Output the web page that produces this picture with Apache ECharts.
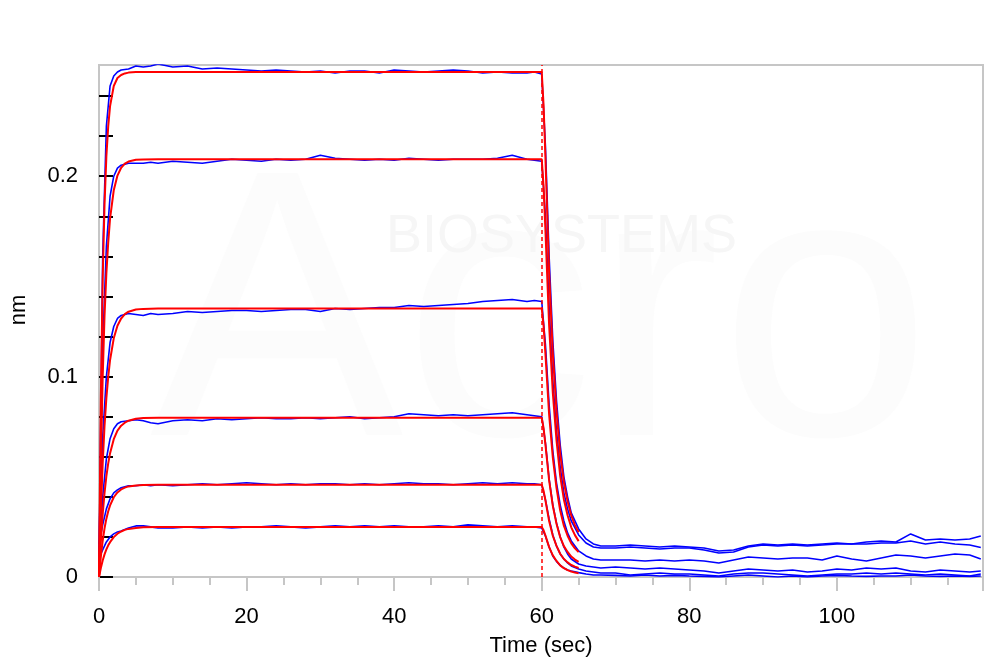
<!DOCTYPE html>
<html>
<head>
<meta charset="utf-8">
<script src="https://cdn.jsdelivr.net/npm/echarts@6/dist/echarts.min.js"></script>
<style>
  html, body { margin: 0; background: #fff; }
  #chart { width: 1000px; height: 669px; }
</style>
</head>
<body>
<div id="chart"></div>
<script>
// sensor time grid for the measured (blue) traces
const tBlue = [
  0, 0.5, 1, 1.5, 2, 2.5, 3, 4, 5, 6, 7, 8,
  10, 12, 14, 16, 18, 20, 22, 24, 26, 28, 30, 32, 34,
  36, 38, 40, 42, 44, 46, 48, 50, 52, 54, 56, 58, 59, 60,
  60.5, 61, 61.5, 62, 62.5, 63, 63.5, 64, 65, 66, 67, 68,
  70, 72, 74, 76, 78, 80, 82, 84, 86, 88, 90, 92, 94,
  96, 98, 100, 102, 104, 106, 108, 110, 112, 114, 116, 118, 119.5
]

const blue1 = [
  0.004, 0.16, 0.225, 0.245, 0.25, 0.252, 0.253, 0.2535, 0.255, 0.2545, 0.255, 0.256,
  0.2545, 0.255, 0.2535, 0.254, 0.2535, 0.253, 0.2525, 0.253, 0.2525, 0.252, 0.2525, 0.2515, 0.2525,
  0.2525, 0.2515, 0.253, 0.2525, 0.252, 0.2525, 0.253, 0.2525, 0.2515, 0.252, 0.2515, 0.2515, 0.252, 0.251,
  0.215, 0.16, 0.118, 0.088, 0.066, 0.05, 0.04, 0.032, 0.024, 0.019, 0.0165, 0.0155,
  0.0155, 0.016, 0.0155, 0.015, 0.0155, 0.015, 0.0145, 0.013, 0.0135, 0.0155, 0.0165, 0.016, 0.0165,
  0.016, 0.0165, 0.017, 0.0165, 0.0175, 0.018, 0.0175, 0.0215, 0.0185, 0.019, 0.0185, 0.019, 0.0205
]
const blue2 = [
  0.01, 0.115, 0.165, 0.19, 0.2, 0.204, 0.2055, 0.2065, 0.2065, 0.2065, 0.207, 0.2065,
  0.2075, 0.207, 0.2065, 0.2075, 0.2085, 0.208, 0.2075, 0.2085, 0.208, 0.2085, 0.2105, 0.209, 0.2085,
  0.208, 0.2085, 0.208, 0.209, 0.2085, 0.208, 0.2085, 0.2085, 0.2085, 0.209, 0.2105, 0.2085, 0.208, 0.2075,
  0.18, 0.135, 0.098, 0.073, 0.055, 0.042, 0.034, 0.028, 0.021, 0.017, 0.015, 0.0145,
  0.0145, 0.015, 0.0145, 0.014, 0.0145, 0.0145, 0.0135, 0.012, 0.0125, 0.015, 0.016, 0.0155, 0.016,
  0.0155, 0.016, 0.0165, 0.0165, 0.0165, 0.017, 0.017, 0.018, 0.0165, 0.0175, 0.0165, 0.016, 0.0147
]
const blue3 = [
  0.006, 0.07, 0.1, 0.117, 0.125, 0.129, 0.1305, 0.1315, 0.131, 0.1305, 0.1315, 0.131,
  0.1315, 0.1325, 0.132, 0.1325, 0.133, 0.133, 0.1325, 0.133, 0.1335, 0.1335, 0.1325, 0.134, 0.1335,
  0.134, 0.1345, 0.1345, 0.1355, 0.135, 0.1355, 0.136, 0.1365, 0.1375, 0.138, 0.1385, 0.1375, 0.138, 0.1375,
  0.116, 0.086, 0.063, 0.047, 0.036, 0.028, 0.022, 0.018, 0.013, 0.0105, 0.009, 0.0085,
  0.0085, 0.0085, 0.008, 0.0085, 0.008, 0.0085, 0.008, 0.007, 0.0085, 0.01, 0.0095, 0.009, 0.0095,
  0.0095, 0.0085, 0.0105, 0.009, 0.008, 0.0095, 0.011, 0.0105, 0.0095, 0.0105, 0.0115, 0.011, 0.009
]
const blue4 = [
  0.01, 0.04, 0.059, 0.069, 0.074, 0.0765, 0.0775, 0.078, 0.0785, 0.078, 0.077, 0.0765,
  0.078, 0.0785, 0.078, 0.079, 0.0785, 0.079, 0.0795, 0.079, 0.079, 0.0795, 0.079, 0.0795, 0.08,
  0.079, 0.0795, 0.08, 0.0815, 0.081, 0.0805, 0.081, 0.0805, 0.081, 0.0815, 0.082, 0.081, 0.0805, 0.08,
  0.067, 0.049, 0.036, 0.027, 0.02, 0.015, 0.0115, 0.009, 0.0065, 0.0055, 0.005, 0.0045,
  0.005, 0.0045, 0.004, 0.0045, 0.004, 0.0035, 0.003, 0.002, 0.003, 0.004, 0.0035, 0.003, 0.0035,
  0.0025, 0.003, 0.004, 0.0035, 0.0045, 0.004, 0.0045, 0.003, 0.0025, 0.0035, 0.003, 0.0025, 0.003
]
const blue5 = [
  0.0165, 0.026, 0.034, 0.039, 0.042, 0.0435, 0.0445, 0.0455, 0.0455, 0.046, 0.0455, 0.046,
  0.0455, 0.046, 0.0465, 0.046, 0.0465, 0.047, 0.0465, 0.046, 0.0465, 0.046, 0.0465, 0.0465, 0.046,
  0.0465, 0.046, 0.0465, 0.047, 0.0465, 0.0465, 0.046, 0.0465, 0.047, 0.0465, 0.047, 0.0465, 0.0465, 0.046,
  0.0385, 0.029, 0.021, 0.0155, 0.0115, 0.009, 0.007, 0.0055, 0.004, 0.003, 0.0025, 0.002,
  0.002, 0.001, 0.0015, 0.002, 0.0015, 0.0015, 0.001, 0.0005, 0.0015, 0.002, 0.002, 0.0015, 0.001,
  0.0005, 0.001, 0.0015, 0.0015, 0.002, 0.0015, 0.002, 0.0015, 0.001, 0.0015, 0.001, 0.0005, 0.0015
]
const blue6 = [
  0.0095, 0.0135, 0.0175, 0.02, 0.0215, 0.0225, 0.023, 0.0245, 0.0255, 0.0255, 0.025, 0.0245,
  0.0245, 0.025, 0.0245, 0.025, 0.0245, 0.025, 0.025, 0.0255, 0.025, 0.0245, 0.025, 0.0255, 0.025,
  0.0255, 0.025, 0.0255, 0.025, 0.025, 0.0255, 0.025, 0.026, 0.0255, 0.025, 0.0255, 0.025, 0.025, 0.0245,
  0.0205, 0.015, 0.0105, 0.0078, 0.0058, 0.0045, 0.0035, 0.003, 0.0022, 0.0015, 0.001, 0.001,
  0.0008, 0.0005, 0.001, 0.0005, 0.0008, 0.0005, 0.0003, 0, 0.0005, 0.001, 0.0005, 0, 0.0005,
  0, 0.0005, 0.0008, 0.0005, 0.0003, 0.0005, 0.0005, 0.001, 0.0005, 0.0003, 0.0005, 0.0003, 0.0005
]

// time grid for the fitted (red) curves: association 0-60, dissociation 60-65
const tRed = [
  0, 0.25, 0.5, 0.75, 1, 1.25, 1.5, 2, 2.5, 3, 3.5, 4, 5, 6, 8, 60,
  60.25, 60.5, 60.75, 61, 61.5, 62, 62.5, 63, 63.5, 64, 64.5, 65
]
const red1 = [
  0, 0.09, 0.149, 0.186, 0.21, 0.225, 0.235, 0.245, 0.249, 0.2505, 0.2513, 0.2517, 0.252, 0.252, 0.252, 0.252,
  0.2353, 0.2092, 0.1806, 0.152, 0.1116, 0.083, 0.0616, 0.0473, 0.0378, 0.0307, 0.0259, 0.0223
]
const red2 = [
  0, 0.058, 0.0997, 0.1305, 0.1516, 0.167, 0.179, 0.193, 0.2003, 0.2042, 0.2063, 0.2073, 0.2082, 0.2084, 0.2085, 0.2085,
  0.1947, 0.173, 0.1493, 0.1256, 0.092, 0.0683, 0.0505, 0.0387, 0.0308, 0.0248, 0.0209, 0.0179
]
const red3 = [
  0, 0.0325, 0.0567, 0.0755, 0.0894, 0.0999, 0.1083, 0.1191, 0.1254, 0.129, 0.1312, 0.1324, 0.1335, 0.1338, 0.134, 0.134,
  0.1252, 0.1113, 0.0962, 0.0811, 0.0597, 0.0445, 0.0332, 0.0256, 0.0206, 0.0168, 0.0143, 0.0124
]
const red4 = [
  0, 0.0176, 0.0313, 0.042, 0.0503, 0.0567, 0.0618, 0.0688, 0.073, 0.0755, 0.077, 0.078, 0.079, 0.0793, 0.0795, 0.0795,
  0.0743, 0.0661, 0.0572, 0.0482, 0.0355, 0.0266, 0.0199, 0.0154, 0.0125, 0.0102, 0.0087, 0.0076
]
const red5 = [
  0, 0.0102, 0.0181, 0.0243, 0.0291, 0.0328, 0.0357, 0.0398, 0.0422, 0.0437, 0.0446, 0.0452, 0.0457, 0.0459, 0.046, 0.046,
  0.043, 0.0383, 0.0331, 0.0279, 0.0206, 0.0155, 0.0116, 0.009, 0.0073, 0.006, 0.0052, 0.0045
]
const red6 = [
  0, 0.0045, 0.0082, 0.0113, 0.0138, 0.0158, 0.0174, 0.0199, 0.0216, 0.0227, 0.0235, 0.024, 0.0245, 0.0248, 0.025, 0.025,
  0.0233, 0.0207, 0.0178, 0.0149, 0.0108, 0.008, 0.0058, 0.0044, 0.0034, 0.0027, 0.0022, 0.0018
]

const switchTime = 60
const yLabels = ['0', '0.1', '0.2']

const FONT = '"Liberation Sans", Arial, sans-serif'
const GREY = '#c6c6c6'

function pairs(t, v) {
  return t.map((x, i) => [x, v[i]])
}

const blueSeries = [blue1, blue2, blue3, blue4, blue5, blue6].map(v => ({
  type: 'line',
  data: pairs(tBlue, v),
  showSymbol: false,
  silent: true,
  z: 2,
  lineStyle: { color: '#0000ff', width: 1.6 }
}))

const redSeries = [red1, red2, red3, red4, red5, red6].map(v => ({
  type: 'line',
  data: pairs(tRed, v),
  showSymbol: false,
  silent: true,
  z: 3,
  lineStyle: { color: '#ff0000', width: 2 }
}))

// dashed marker where association switches to dissociation
redSeries[0].markLine = {
  silent: true,
  symbol: 'none',
  label: { show: false },
  lineStyle: { color: '#ff0000', type: [4, 3], width: 1.5 },
  data: [{ xAxis: switchTime }]
}

const chart = echarts.init(document.getElementById('chart'))

const option = {
  animation: false,
  backgroundColor: '#fff',
  textStyle: { fontFamily: FONT },
  // faint logo watermark behind the plot
  graphic: [
    {
      type: 'text', left: 150, top: 140, z: -10, silent: true,
      style: { text: 'Acro', fontSize: 380, fontFamily: FONT, fill: '#fcfcfc' }
    },
    {
      type: 'text', left: 386, top: 210, z: -9, silent: true,
      style: { text: 'BIOSYSTEMS', fontSize: 54, fontFamily: FONT, fill: '#f6f6f6' }
    }
  ],
  grid: {
    left: 98, right: 17, top: 65, bottom: 92,
    show: true, borderColor: GREY, borderWidth: 2
  },
  xAxis: {
    type: 'value',
    min: 0,
    max: 119.8,
    interval: 20,
    name: 'Time (sec)',
    nameLocation: 'middle',
    nameGap: 58,
    nameTextStyle: { fontSize: 22, color: '#000', fontFamily: FONT },
    axisLine: { lineStyle: { color: GREY, width: 2 } },
    axisTick: { length: 14, lineStyle: { color: GREY, width: 2 } },
    minorTick: { show: true, splitNumber: 4, length: 8, lineStyle: { color: GREY, width: 2 } },
    axisLabel: { fontSize: 22, color: '#000', margin: 29, showMaxLabel: false, fontFamily: FONT },
    splitLine: { show: false },
    minorSplitLine: { show: false }
  },
  yAxis: {
    type: 'value',
    min: 0,
    max: 0.2555,
    interval: 0.02,
    name: 'nm',
    nameLocation: 'middle',
    nameGap: 69,
    nameRotate: 90,
    nameTextStyle: { fontSize: 22, color: '#000', fontFamily: FONT, padding: [0, 0, 0, 22] },
    axisLine: { show: true, lineStyle: { color: GREY, width: 2 } },
    axisTick: { show: true, inside: true, length: 14, lineStyle: { color: '#000', width: 2 } },
    axisLabel: {
      fontSize: 22,
      color: '#000',
      margin: 21,
      showMaxLabel: false,
      fontFamily: FONT,
      formatter: function(v) {
        const k = Math.round(v / 0.1)
        return Math.abs(v - k * 0.1) < 1e-6 && yLabels[k] ? yLabels[k] : ''
      }
    },
    splitLine: { show: false }
  },
  series: blueSeries.concat(redSeries)
}

chart.setOption(option)
</script>
</body>
</html>
